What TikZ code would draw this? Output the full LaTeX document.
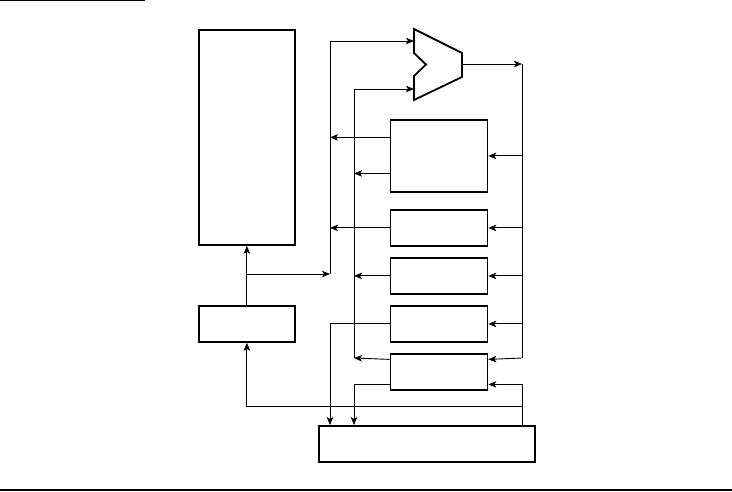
\documentclass[tikz,border=0pt]{standalone}
\usetikzlibrary{arrows.meta,calc}
\begin{document}
\begin{tikzpicture}[x=1pt,y=-1pt,
  blk/.style={draw, line width=1.8pt, inner sep=0pt, anchor=north west},
  conn/.style={line width=0.9pt},
  arr/.style={conn,-{Stealth[length=8pt,width=6.5pt,inset=2pt]}}]
\useasboundingbox (0,0) rectangle (732,491);
% page rules
\draw[line width=1.1pt] (0,0.8) -- (145,0.8);
\draw[line width=1.1pt] (0,490) -- (732,490);
% blocks
\node[blk, minimum width=96pt, minimum height=215pt] (mem) at (198,29) {};
\node[blk, minimum width=96pt, minimum height=36pt] (reg) at (198,305) {};
\node[blk, minimum width=97pt, minimum height=72pt] (b1) at (389.5,119) {};
\node[blk, minimum width=97pt, minimum height=36pt] (b2) at (389.5,209) {};
\node[blk, minimum width=97pt, minimum height=36pt] (b3) at (389.5,257) {};
\node[blk, minimum width=97pt, minimum height=36pt] (b4) at (389.5,305) {};
\node[blk, minimum width=97pt, minimum height=36pt] (b5) at (389.5,353) {};
\node[blk, minimum width=216pt, minimum height=36pt] (bot) at (318,425) {};
% mux
\draw[line width=1.8pt, line join=miter] (414,29) -- (462,53) -- (462,77) -- (414,100) -- (414,76) -- (426,64.5) -- (414,53) -- cycle;
\coordinate (muxA) at (414,41);
\coordinate (muxB) at (414,89);
\coordinate (muxO) at (462,64);
% bus coordinates
\coordinate (rt) at (522,64);
\coordinate (rb) at (522,358);
\coordinate (lA) at (330,274);
\coordinate (lB) at (354,358);
\coordinate (botA) at (330,425);
\coordinate (botB) at (354,425);
\coordinate (botR) at (522,425);
\coordinate (fb) at (522,406);
\coordinate (b5u) at ($(b5.east)+(0,-12.5)$);
\coordinate (b5d) at ($(b5.east)+(0,12.5)$);
\coordinate (b5lu) at ($(b5.west)+(0,-12.5)$);
\coordinate (b5ld) at ($(b5.west)+(0,12.5)$);
\coordinate (b1lu) at ($(b1.west)+(0,-18.5)$);
\coordinate (b1ld) at ($(b1.west)+(0,17.5)$);
% right bus
\draw[arr] (muxO) -- (rt);
\draw[conn] (rt) -- (rb);
\draw[arr] (rt |- b1.east) -- (b1.east);
\draw[arr] (rt |- b2.east) -- (b2.east);
\draw[arr] (rt |- b3.east) -- (b3.east);
\draw[arr] (rt |- b4.east) -- (b4.east);
\draw[arr] (rb) -- (b5u);
\draw[arr] (botR) |- (b5d);
\draw[arr] (fb) -| (reg.south);
% left side
\draw[arr] (reg.north) -- (mem.south);
\draw[arr] (mem.south |- lA) -- (lA);
\draw[arr] (lA) |- (muxA);
\draw[arr] (b1lu) -- (b1lu -| lA);
\draw[arr] (b2.west) -- (b2.west -| lA);
\draw[arr] (lB) |- (muxB);
\draw[arr] (b1ld) -- (b1ld -| lB);
\draw[arr] (b3.west) -- (b3.west -| lB);
\draw[arr] (b5lu) -- (lB);
\draw[arr] (b4.west) -| (botA);
\draw[arr] (b5ld) -| (botB);
\end{tikzpicture}
\end{document}
